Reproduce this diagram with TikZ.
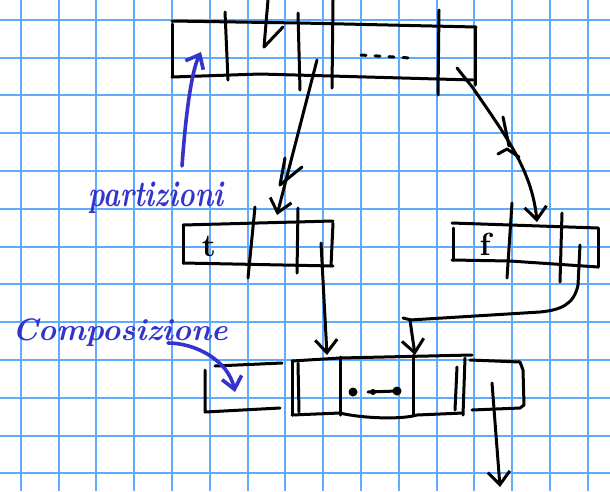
\documentclass[tikz,border=0pt]{standalone}
\usetikzlibrary{arrows.meta}
\definecolor{gridblue}{RGB}{95,172,255}
\definecolor{inkblue}{RGB}{52,52,204}
\begin{document}
\begin{tikzpicture}[x=1pt,y=-1pt,
  ink/.style={line width=3pt,line cap=round,line join=round,black},
  pen/.style={line width=3.6pt,line cap=round,line join=round,inkblue},
  ptr/.style={ink,-{Straight Barb[length=13pt,width=22pt]}},
  bptr/.style={pen,-{Straight Barb[length=12pt,width=20pt]}},
  note/.style={inkblue,font=\bfseries\itshape,inner sep=0pt},
  cell/.style={black,font=\bfseries\fontsize{32}{32}\selectfont,inner sep=0pt}]
% paper and squared grid
\fill[white] (0,0) rectangle (610,491);
\useasboundingbox (0,0) rectangle (610,491);
\foreach \k in {0,...,15} \draw[gridblue,line width=2pt] ({20.7+37.8*\k},0) -- ({20.7+37.8*\k},491);
\foreach \k in {0,...,12} \draw[gridblue,line width=2pt] (0,{19.7+37.8*\k}) -- (610,{19.7+37.8*\k});

% top array, split into partitions
\draw[ink] (172,21) -- (300,23) -- (476,27);
\draw[ink] (172,24) -- (172,77);
\draw[ink] (172,77) -- (260,74) -- (473,80);
\draw[ink] (475,28) -- (475,85);
\draw[ink] (225,12) -- (228,80);
\draw[ink] (298,13) -- (300,90);
\draw[ink] (333,0) -- (332,88);
\draw[ink] (439,10) -- (438,95);
\draw[ink,dash pattern=on 5pt off 9pt] (361,55) -- (410,58);

% incoming pointer into the top array
\coordinate (aTop) at (268,0);
\coordinate (aTip) at (264,47);
\draw[ink] (aTop) -- (aTip) -- (283,27);

% pointer from a middle partition to the left box
\coordinate (bFrom) at (317,60);
\coordinate (bTo) at (277,215);
\draw[ptr] (bFrom) -- (bTo);
\draw[ink] (285,158) -- (280,185) -- (302,167);

% pointer from the last partition to the right box
\coordinate (cFrom) at (457,68);
\coordinate (cTo) at (537,222);
\draw[ptr] (cFrom) -- (473,88) .. controls (505,135) and (532,170) .. (cTo);
\draw[ink] (503,117) -- (509,146);
\draw[ink] (498,154) -- (507,149) -- (519,157);

% left box (t)
\draw[ink] (183,225) -- (333,221);
\draw[ink] (183,263) -- (333,266);
\draw[ink] (183,226) -- (183,263);
\draw[ink] (333,223) -- (331,266);
\draw[ink] (255,207) -- (248,278);
\draw[ink] (298,208) -- (297,273);
\node[cell] (tt) at (209,246) {t};

% right box (f)
\draw[ink] (452,223) -- (598,228);
\draw[ink] (452,260) -- (510,261) -- (598,267);
\draw[ink] (453,228) -- (453,260);
\draw[ink] (598,228) -- (598,267);
\draw[ink] (512,203) -- (507,278);
\draw[ink] (562,213) -- (560,282);
\node[cell] (ff) at (485,244) {f};

% pointers down into the composed array
\coordinate (dFrom) at (321,243);
\coordinate (dTo) at (327,355);
\draw[ptr] (dFrom) -- (dTo);
\coordinate (eFrom) at (580,245);
\coordinate (eTo) at (415,355);
\draw[ptr] (eFrom) -- (578,285) .. controls (574,305) and (560,310) .. (540,312) -- (410,320) -- (eTo);
\draw[ink] (403,318) -- (411,320);

% bottom row: open box on the left
\draw[ink] (282,363) -- (215,366);
\draw[ink] (205,370) -- (205,412) -- (280,408);

% bottom row: composed array
\draw[ink] (292,361) -- (340,358) -- (472,355);
\draw[ink] (292,415) -- (340,413) .. controls (360,418) and (400,420) .. (417,415) -- (463,413);
\draw[ink] (292,361) -- (292,415);
\draw[ink] (298,363) -- (299,412);
\draw[ink] (340,357) -- (340,415);
\draw[ink] (413,355) -- (413,415);
\draw[ink] (457,367) -- (455,410);
\draw[ink] (465,358) -- (463,415);
\fill (353,392) circle (4.5pt);
\draw[ink] (368,392) -- (397,391);
\fill (373,392) circle (3pt);
\fill (397,391) circle (4.5pt);

% bottom row: open box on the right
\draw[ink] (470,360) -- (520,362) -- (523,370) -- (524,405) -- (520,408) -- (472,410);
\coordinate (fFrom) at (492,383);
\coordinate (fTo) at (500,487);
\draw[ptr] (fFrom) -- (fTo);

% annotations
\node[note,font=\bfseries\itshape\fontsize{28}{28}\selectfont] (part) at (156,198) {\scalebox{1}[1.3]{partizioni}};
\coordinate (pFrom) at (182,166);
\coordinate (pTo) at (201,52);
\draw[bptr] (pFrom) .. controls (186,110) and (192,70) .. (pTo);
\node[note,font=\bfseries\itshape\fontsize{31}{31}\selectfont] (comp) at (120,333) {Composizione};
\coordinate (kFrom) at (168,343);
\coordinate (kTo) at (235,392);
\draw[bptr] (kFrom) .. controls (195,343) and (228,360) .. (kTo);
\end{tikzpicture}
\end{document}
